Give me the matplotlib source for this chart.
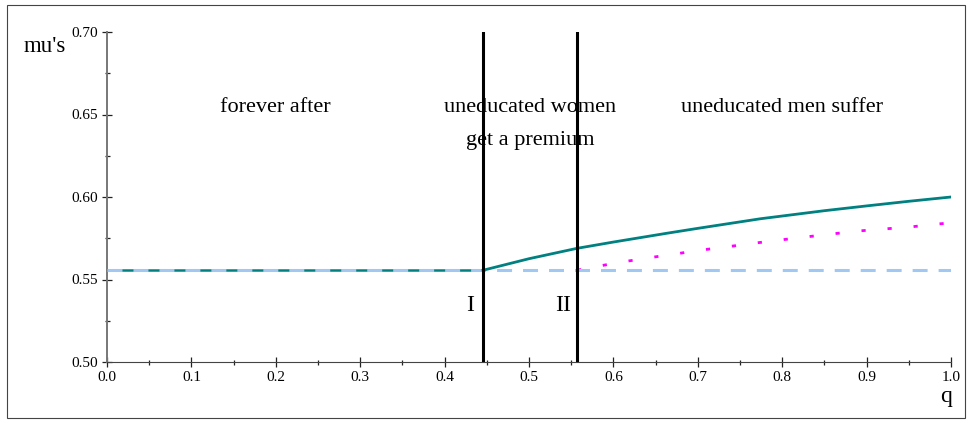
import matplotlib.pyplot as plt
from matplotlib.patches import Rectangle
from matplotlib.ticker import MultipleLocator

plt.rcParams['font.family'] = ['Liberation Serif', 'DejaVu Serif']

# flat level before regime I
mu_flat = 0.5556
q_flat = [0.0, 0.4455]

# men's mu after regime I
q_men = [0.4455, 0.5, 0.557, 0.6, 0.663, 0.7, 0.774, 0.85, 0.9, 0.95, 1.0]
mu_men = [0.5556, 0.5626, 0.5689, 0.5727, 0.5780, 0.5810, 0.5868, 0.5917,
          0.5946, 0.5974, 0.6000]

# women's mu after regime II
q_women = [0.557, 0.579, 0.609, 0.640, 0.671, 0.702, 0.733, 0.765, 0.797,
           0.828, 0.859, 0.890, 0.920, 0.951, 0.983, 1.0]
mu_women = [0.5556, 0.5578, 0.5605, 0.5630, 0.5653, 0.5677, 0.5697, 0.5719,
            0.5739, 0.5758, 0.5776, 0.5794, 0.5806, 0.5818, 0.5836, 0.5843]

# the benchmark level across the whole range
q_base = [0.0, 1.0]
mu_base = [mu_flat, mu_flat]

q_cuts = [0.4455, 0.557]
cut_names = ['I', 'II']

fig = plt.figure(figsize=(9.71, 4.23), dpi=100)
fig.patches.append(Rectangle((7 / 971, 5 / 423), 958 / 971, 413 / 423,
                             transform=fig.transFigure, fill=False,
                             edgecolor='#444444', linewidth=0.8))
ax = fig.add_axes([107 / 971, 61 / 423, 844 / 971, 330 / 423])

ax.plot(q_flat, [mu_flat, mu_flat], color='#008080', linewidth=1.8, zorder=2)
ax.plot(q_women, mu_women, color='#ff00ff', linewidth=2.0,
        linestyle=(0, (1.5, 7.9)), zorder=2)
ax.plot(q_base, mu_base, color='#a0c8f2', linewidth=2.2,
        linestyle=(0, (4.9, 3.6)), zorder=3)
ax.plot(q_men, mu_men, color='#008080', linewidth=2.0, zorder=4)

for qc in q_cuts:
    ax.plot([qc, qc], [0.5, 0.7], color='black', linewidth=2.2, zorder=5)

txt = dict(fontsize=16, ha='center', va='center', zorder=1)
ax.text(0.2, 0.654, 'forever after', **txt)
ax.text(0.501, 0.654, 'uneducated women', **txt)
ax.text(0.501, 0.6345, 'get a premium', **txt)
ax.text(0.80, 0.654, 'uneducated men suffer', **txt)
ax.text(0.430, 0.5345, cut_names[0], fontsize=17, ha='center', va='center')
ax.text(0.540, 0.5345, cut_names[1], fontsize=17, ha='center', va='center')

ax.set_xlim(0, 1.0)
ax.set_ylim(0.5, 0.7)
ax.xaxis.set_major_locator(MultipleLocator(0.1))
ax.xaxis.set_minor_locator(MultipleLocator(0.05))
ax.yaxis.set_major_locator(MultipleLocator(0.05))
ax.yaxis.set_minor_locator(MultipleLocator(0.025))
ax.xaxis.set_major_formatter(lambda v, p: f'{v:.1f}')
ax.yaxis.set_major_formatter(lambda v, p: f'{v:.2f}')
ax.tick_params(which='major', direction='inout', length=7, width=0.9,
               labelsize=11, pad=3, colors='#222222', labelcolor='black')
ax.tick_params(which='minor', direction='inout', length=3.6, width=0.9,
               colors='#222222')
for side in ['top', 'right']:
    ax.spines[side].set_visible(False)
ax.spines['left'].set_color('#777777')
ax.spines['bottom'].set_color('#444444')
ax.spines['left'].set_linewidth(1.4)

fig.text(45 / 971, 1 - 46 / 423, "mu's", fontsize=16.5, ha='center', va='center')
fig.text(946 / 971, 1 - 396 / 423, 'q', fontsize=17, ha='center', va='center')

fig.savefig('out.png', dpi=100)
